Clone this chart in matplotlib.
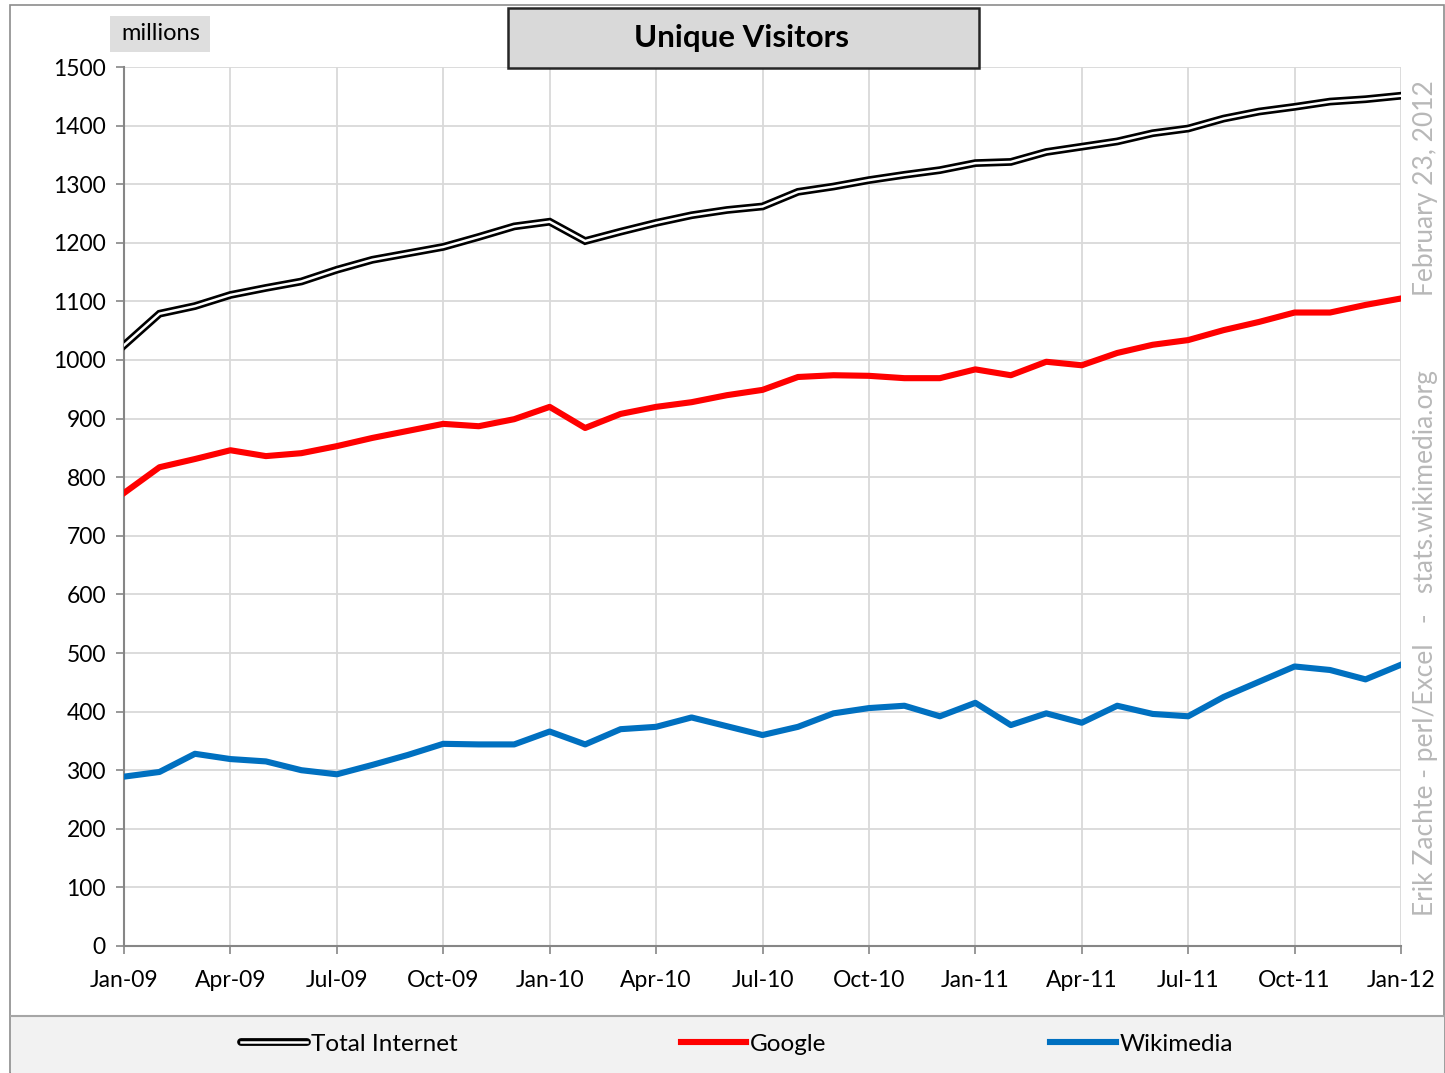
import matplotlib
matplotlib.use("Agg")
import matplotlib.pyplot as plt
from matplotlib.patches import Rectangle
from matplotlib.lines import Line2D
from matplotlib.legend_handler import HandlerTuple

plt.rcParams['font.family'] = ['Lato', 'DejaVu Sans']

# monthly values, Jan-09 .. Jan-12 (millions)
months = list(range(37))
total_internet = [1025, 1079, 1092, 1111, 1123, 1134, 1154, 1171, 1182, 1193, 1210, 1228,
                  1236, 1203, 1219, 1234, 1247, 1256, 1262, 1287, 1296, 1307, 1316, 1324,
                  1336, 1338, 1355, 1364, 1373, 1387, 1395, 1412, 1424, 1432, 1441, 1445,
                  1451]
google = [773, 817, 831, 846, 836, 841, 853, 867, 879, 891, 887, 899,
          920, 884, 908, 920, 928, 940, 949, 971, 974, 973, 969, 969,
          984, 974, 997, 991, 1012, 1026, 1034, 1051, 1065, 1081, 1081, 1094,
          1105]
wikimedia = [289, 297, 328, 319, 315, 300, 293, 309, 326, 345, 344, 344,
             366, 344, 370, 374, 390, 375, 360, 374, 397, 406, 410, 392,
             415, 377, 397, 381, 410, 396, 392, 425, 451, 477, 471, 455,
             480]
tick_months = list(range(0, 37, 3))
tick_labels = ['Jan-09', 'Apr-09', 'Jul-09', 'Oct-09', 'Jan-10', 'Apr-10', 'Jul-10',
               'Oct-10', 'Jan-11', 'Apr-11', 'Jul-11', 'Oct-11', 'Jan-12']
y_ticks = list(range(0, 1501, 100))

W, H = 1445, 1073
fig = plt.figure(figsize=(W / 100, H / 100), dpi=100)
fig.patch.set_facecolor('white')

# outer frame and legend band
fig.add_artist(Rectangle((10 / W, 0), (W - 11) / W, 1 - 5 / H, transform=fig.transFigure,
                         facecolor='none', edgecolor='#8c8c8c', lw=1.2, zorder=0))
fig.add_artist(Rectangle((11 / W, 0), (W - 12) / W, 56 / H, transform=fig.transFigure,
                         facecolor='#f2f2f2', edgecolor='none', zorder=0))
fig.add_artist(Line2D([11 / W, 1], [1 - 1016 / H] * 2, transform=fig.transFigure,
                      color='#a6a6a6', lw=1.5, zorder=1))

ax = fig.add_axes([124 / W, 1 - 946 / H, (1401 - 124) / W, (946 - 67) / H])
ax.set_xlim(0, 36)
ax.set_ylim(0, 1500)

ax.plot(months, total_internet, color='black', lw=5.6, solid_joinstyle='miter', zorder=3)
ax.plot(months, total_internet, color='white', lw=1.8, solid_joinstyle='miter', zorder=4)
ax.plot(months, google, color='#ff0000', lw=4.4, zorder=3)
ax.plot(months, wikimedia, color='#0070c0', lw=4.4, zorder=3)

ax.set_xticks(tick_months)
ax.set_xticklabels(tick_labels)
ax.set_yticks(y_ticks)
ax.grid(True, color='#d9d9d9', lw=1.3)
ax.set_axisbelow(True)
for s in ['top', 'right']:
    ax.spines[s].set_visible(False)
for s in ['left', 'bottom']:
    ax.spines[s].set_color('#868686')
    ax.spines[s].set_linewidth(1.5)
ax.tick_params(axis='both', direction='out', length=6, width=1.2, color='#868686',
               labelsize=16.5, labelcolor='black')
ax.tick_params(axis='x', pad=11)
ax.tick_params(axis='y', pad=7)

# title box
fig.add_artist(Rectangle((508 / W, 1 - 68 / H), (979 - 508) / W, 60 / H,
                         transform=fig.transFigure, facecolor='#d9d9d9',
                         edgecolor='#262626', lw=1.8, zorder=5))
fig.text(741 / W, 1 - 38 / H, 'Unique Visitors', ha='center', va='center',
         fontsize=22.5, fontweight='bold', zorder=6)

# units box
fig.add_artist(Rectangle((110 / W, 1 - 52 / H), 100 / W, 36 / H,
                         transform=fig.transFigure, facecolor='#dedede',
                         edgecolor='none', zorder=5))
fig.text(161 / W, 1 - 33 / H, 'millions', ha='center', va='center', fontsize=17, zorder=6)

# side credits
fig.text(1425 / W, 1 - 916 / H, 'Erik Zachte - perl/Excel   -   stats.wikimedia.org',
         rotation=90, ha='center', va='bottom', fontsize=19, color='#b8b8b8')
fig.text(1425 / W, 1 - 80 / H, 'February 23, 2012', rotation=90, ha='center', va='top',
         fontsize=19, color='#b8b8b8')

# legend
h_total = (Line2D([], [], color='black', lw=5.6, solid_capstyle='round'),
           Line2D([], [], color='white', lw=1.8))
h_google = Line2D([], [], color='#ff0000', lw=4.4)
h_wiki = Line2D([], [], color='#0070c0', lw=4.4)
fig.legend([h_total, h_google, h_wiki], ['Total Internet', 'Google', 'Wikimedia'],
           handler_map={tuple: HandlerTuple(ndivide=1, pad=0)},
           loc='center', bbox_to_anchor=(737 / W, 1 - 1044 / H), ncol=3, frameon=False,
           fontsize=17.5, handlelength=2.7, handletextpad=0.15, columnspacing=9.2)

fig.savefig('out.png', dpi=100)
